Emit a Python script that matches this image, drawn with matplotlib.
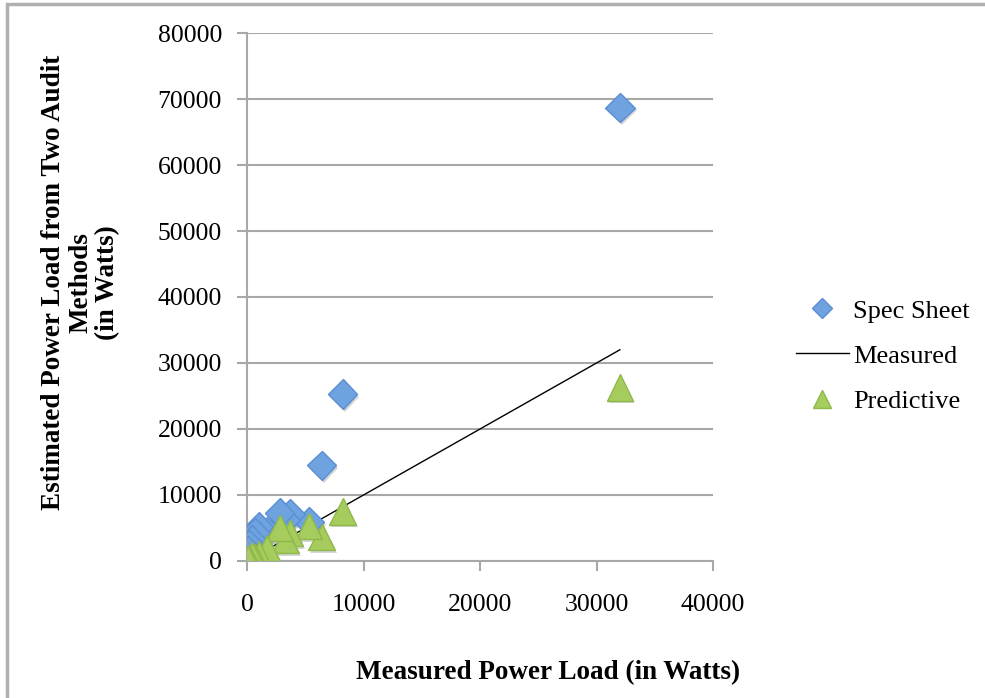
import matplotlib.pyplot as plt
from matplotlib.lines import Line2D
import matplotlib.patheffects as pe

# measured load and the two audit estimates (Watts)
measured = [32000, 8200, 6400, 5300, 3700, 3300, 2800, 1700, 1000, 700, 400, 200, 100]
spec_sheet = [68700, 25300, 14500, 5900, 7100, 6200, 7300, 4500, 5200, 4300, 3200, 2500, 1500]
predictive = [26300, 7500, 3600, 5300, 4200, 3200, 5000, 2000, 1000, 600, 900, 400, 200]

x_ticks = [0, 10000, 20000, 30000, 40000]
y_ticks = [0, 10000, 20000, 30000, 40000, 50000, 60000, 70000, 80000]

plt.rcParams['font.family'] = ['Liberation Serif', 'DejaVu Serif']

fig = plt.figure(figsize=(9.85, 6.98), dpi=100)
ax = fig.add_axes([0.2508, 0.1963, 0.4731, 0.7564])

# outer gray frame (left/top visible)
fig.add_artist(plt.Rectangle((0.007, -0.1), 1.2, 1.094, transform=fig.transFigure,
                             fill=False, edgecolor='#b0b0b0', linewidth=2.5))

shadow = [pe.SimplePatchShadow(offset=(1.5, -2), shadow_rgbFace='#888888', alpha=0.35), pe.Normal()]

line_x = sorted(measured)
ax.plot(line_x, line_x, color='black', linewidth=1.0, zorder=3)
ax.plot(measured, spec_sheet, linestyle='none', marker='D', markersize=15,
        markerfacecolor='#6fa3e0', markeredgecolor='#5a8ed0', markeredgewidth=1,
        zorder=4, path_effects=shadow)
ax.plot(measured, predictive, linestyle='none', marker='^', markersize=19,
        markerfacecolor='#a5cc5c', markeredgecolor='#8fb84a', markeredgewidth=1,
        zorder=5, path_effects=shadow)

ax.set_xlim(0, 40000)
ax.set_ylim(0, 80000)
ax.set_xticks(x_ticks)
ax.set_yticks(y_ticks)
ax.yaxis.grid(True, color='#a8a8a8', linewidth=1.5)
ax.set_axisbelow(True)
for s in ['top', 'right']:
    ax.spines[s].set_visible(False)
for s in ['left', 'bottom']:
    ax.spines[s].set_color('#a8a8a8')
    ax.spines[s].set_linewidth(1.5)
ax.tick_params(axis='both', colors='#a8a8a8', labelcolor='black', labelsize=18.5,
               length=7, width=1.5)
ax.tick_params(axis='x', pad=17)
ax.tick_params(axis='y', pad=11)

fig.text(0.556, 0.037, 'Measured Power Load (in Watts)', ha='center', va='center',
         fontsize=19.5, fontweight='bold')
fig.text(0.082, 0.595, 'Estimated Power Load from Two Audit\nMethods\n(in Watts)',
         ha='center', va='center', rotation=90, fontsize=19.5, fontweight='bold',
         linespacing=1.1)

handles = [
    Line2D([], [], linestyle='none', marker='D', markersize=10,
           markerfacecolor='#6fa3e0', markeredgecolor='#5a8ed0'),
    Line2D([], [], color='black', linewidth=1.0),
    Line2D([], [], linestyle='none', marker='^', markersize=13,
           markerfacecolor='#a5cc5c', markeredgecolor='#8fb84a'),
]
fig.legend(handles, ['Spec Sheet', 'Measured', 'Predictive'], loc='center left',
           bbox_to_anchor=(0.784, 0.49), frameon=False, fontsize=19,
           handlelength=2.0, handletextpad=0.15, labelspacing=0.82)

fig.savefig('out.png', dpi=100)
